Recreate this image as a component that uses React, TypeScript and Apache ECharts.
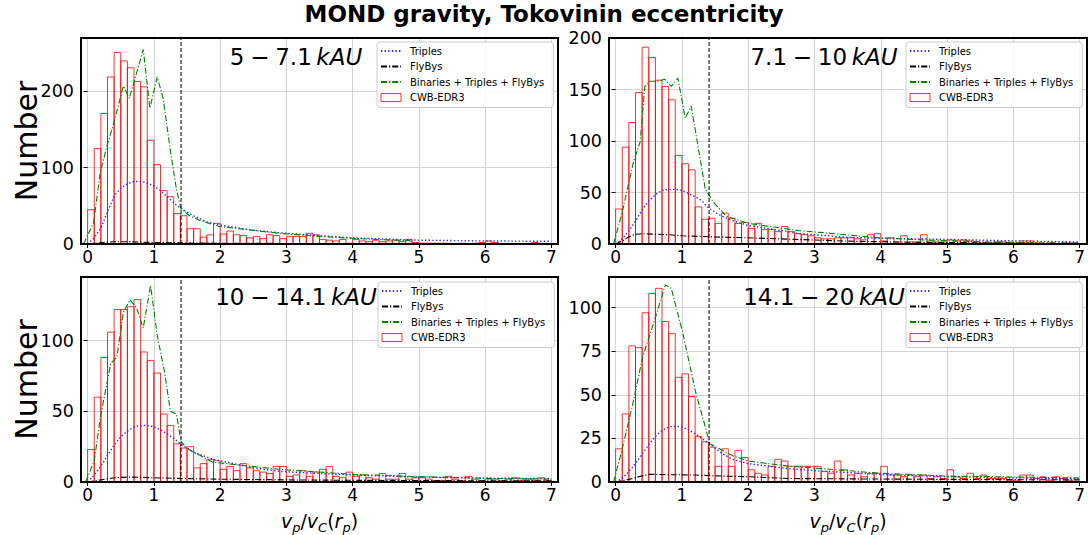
import React, { useEffect, useRef } from "react";
import * as echarts from "echarts";

// ---------------- data ----------------
const BIN_WIDTH = 0.1;
const CUT = 1.41;
const X_TICKS = [0, 1, 2, 3, 4, 5, 6, 7];
const TITLE = "MOND gravity, Tokovinin eccentricity";
const PANEL_RANGES = ["5\u2005−\u20057.1", "7.1\u2005−\u200510", "10\u2005−\u200514.1", "14.1\u2005−\u200520"];
const UNIT = "kAU";
const NAME_TRIPLES = "Triples";
const NAME_FLYBYS = "FlyBys";
const NAME_TOTAL = "Binaries + Triples + FlyBys";
const NAME_HIST = "CWB-EDR3";

const HIST_1 = [
  45, 125, 171, 219, 251, 240, 231, 213, 206, 136,
  104, 70, 62, 40, 37, 20, 20, 9, 12, 27,
  13, 17, 12, 11, 8, 10, 7, 12, 11, 7,
  10, 10, 10, 14, 12, 6, 5, 4, 6, 1,
  6, 4, 3, 5, 3, 4, 5, 3, 6, 2,
  1, 1, 1, 1, 1, 0, 1, 0, 1, 2,
  4, 2, 0, 0, 0, 0, 0, 2, 0, 0,
];
const HIST_2 = [
  34, 94, 118, 147, 191, 181, 159, 153, 140, 86,
  78, 72, 36, 24, 25, 20, 30, 25, 20, 21,
  15, 20, 14, 14, 12, 17, 12, 10, 9, 8,
  6, 5, 5, 6, 6, 6, 5, 4, 9, 10,
  3, 6, 2, 8, 2, 2, 9, 3, 2, 2,
  4, 3, 4, 3, 2, 1, 1, 2, 2, 1,
  1, 3, 3, 1, 0, 1, 0, 0, 1, 0,
];
const HIST_3 = [
  23, 60, 88, 106, 122, 122, 124, 129, 92, 86,
  77, 48, 40, 27, 24, 25, 10, 13, 16, 15,
  9, 11, 8, 13, 10, 8, 7, 6, 11, 11,
  4, 5, 8, 4, 7, 9, 11, 4, 3, 7,
  4, 5, 3, 2, 6, 2, 2, 6, 2, 3,
  3, 2, 1, 1, 4, 2, 1, 4, 2, 1,
  2, 2, 1, 2, 3, 1, 2, 1, 3, 1,
];
const HIST_4 = [
  19, 39, 78, 77, 97, 108, 111, 92, 85, 60,
  62, 49, 26, 23, 20, 9, 19, 9, 18, 14,
  7, 5, 4, 9, 13, 12, 9, 9, 9, 9,
  9, 6, 5, 12, 7, 4, 5, 3, 5, 5,
  9, 4, 4, 3, 4, 3, 4, 2, 3, 2,
  7, 3, 2, 5, 2, 4, 2, 2, 2, 1,
  1, 4, 4, 2, 3, 1, 3, 2, 1, 0,
];

const TOTAL_1: [number, number][] = [
  [-0.06, 0], [0.09, 28], [0.19, 93], [0.29, 128], [0.39, 157], [0.54, 207],
  [0.63, 191], [0.84, 255], [0.94, 178], [1.05, 219], [1.14, 191], [1.24, 128],
  [1.34, 72], [1.41, 46], [1.54, 37], [1.69, 31], [1.99, 23], [2.39, 19],
  [2.89, 14], [3.5, 10], [4.0, 7.4], [4.5, 5.5], [4.85, 4.5], [4.95, 0],
];
const TRIPLES_1: [number, number][] = [
  [0, 0], [0.1, 8], [0.2, 21], [0.3, 42], [0.4, 63], [0.5, 73], [0.6, 79],
  [0.7, 82], [0.8, 82], [0.9, 80], [1.0, 76], [1.1, 70], [1.2, 62], [1.3, 54],
  [1.4, 47], [1.6, 37], [1.8, 29], [2.0, 25], [2.5, 18], [3.0, 14], [3.5, 11],
  [4.0, 8], [4.5, 6.5], [5.0, 5], [6.0, 4], [7.0, 3.5],
];
const FLYBYS_1: [number, number][] = [
  [0, 0], [0.2, 2], [0.4, 3], [0.6, 3], [0.8, 2.5], [1.0, 2], [1.4, 1.5],
  [2.0, 1], [3.0, 0.7], [4.0, 0.5], [5.0, 0.3], [7.0, 0.2],
];

const TOTAL_2: [number, number][] = [
  [-0.03, 0], [0.1, 31], [0.27, 80], [0.37, 99], [0.44, 153], [0.52, 158],
  [0.64, 158], [0.74, 160], [0.84, 153], [0.94, 161], [1.05, 122], [1.14, 134],
  [1.24, 96], [1.35, 54], [1.47, 41], [1.67, 27], [2.0, 20], [2.77, 13],
  [3.13, 11], [3.63, 8], [4.0, 6], [4.63, 4], [5.13, 3], [5.63, 2], [6.13, 1.5],
  [6.3, 1.3],
];
const TRIPLES_2: [number, number][] = [
  [0, 0], [0.1, 5], [0.2, 13], [0.3, 22], [0.4, 33], [0.5, 42], [0.6, 48],
  [0.7, 52], [0.8, 53], [0.9, 53], [1.0, 52], [1.1, 49], [1.2, 46], [1.3, 42],
  [1.4, 35], [1.6, 27], [1.8, 22], [2.0, 18], [2.5, 13], [2.77, 10], [3.0, 9],
  [3.5, 6.5], [4.0, 5.5], [5.0, 4.5], [6.0, 3], [7.0, 2],
];
const FLYBYS_2: [number, number][] = [
  [0, 0], [0.1, 3], [0.2, 7], [0.3, 9.5], [0.4, 10], [0.6, 9.5], [0.8, 9],
  [1.0, 8], [1.4, 7], [2.0, 6], [2.7, 4.5], [3.6, 2.6], [4.6, 1.6], [6.0, 1],
  [7.0, 0.8],
];

const TOTAL_3: [number, number][] = [
  [-0.03, 0], [0.1, 15], [0.2, 48], [0.35, 84], [0.44, 88], [0.54, 120],
  [0.64, 129], [0.74, 123], [0.84, 109], [0.95, 139], [1.05, 104], [1.16, 78],
  [1.25, 50], [1.34, 48], [1.41, 29], [1.49, 24], [1.89, 14], [2.89, 9],
  [4.0, 5.4], [5.0, 3.8], [6.0, 2.6], [7.0, 2],
];
const TRIPLES_3: [number, number][] = [
  [0, 0], [0.1, 5], [0.2, 11], [0.3, 19], [0.4, 26], [0.5, 32], [0.6, 36],
  [0.7, 39], [0.8, 40], [0.9, 40], [1.0, 39], [1.1, 37], [1.2, 34], [1.3, 31],
  [1.4, 27], [1.6, 21], [1.9, 16], [2.5, 10], [2.9, 7.5], [3.5, 6], [4.0, 5],
  [5.0, 3.5], [6.0, 2.8], [7.0, 2.3],
];
const FLYBYS_3: [number, number][] = [
  [0, 0], [0.2, 1.5], [0.4, 3], [0.6, 3.5], [0.8, 3.3], [1.0, 3], [1.4, 2.5],
  [2.0, 2], [3.0, 1.5], [4.0, 1.2], [5.0, 1], [7.0, 0.8],
];

const TOTAL_4: [number, number][] = [
  [-0.03, 0], [0.1, 19], [0.26, 45], [0.41, 72], [0.59, 93], [0.75, 113],
  [0.84, 111], [1.01, 86], [1.21, 51], [1.35, 32], [1.42, 22], [1.77, 15],
  [2.0, 12], [2.63, 9], [3.0, 8], [4.0, 5], [5.0, 3.4], [6.0, 2.9], [7.0, 2.3],
];
const TRIPLES_4: [number, number][] = [
  [0, 0], [0.1, 2], [0.26, 8.6], [0.4, 16], [0.51, 22], [0.6, 26], [0.7, 29.5],
  [0.8, 31.5], [0.9, 32], [1.0, 31.5], [1.1, 30], [1.26, 26], [1.41, 22],
  [1.6, 16.5], [1.76, 13], [2.0, 10.5], [2.63, 7.6], [3.0, 6.5], [4.0, 4.4],
  [5.0, 3], [7.0, 1.9],
];
const FLYBYS_4: [number, number][] = [
  [0, 0], [0.2, 1.5], [0.4, 3.5], [0.5, 4.4], [0.8, 4.2], [1.2, 4], [1.5, 3.5],
  [2.0, 3], [2.6, 2], [3.5, 1.8], [5.0, 1.5], [7.0, 1.2],
];

const HISTS = [HIST_1, HIST_2, HIST_3, HIST_4];
const TOTALS = [TOTAL_1, TOTAL_2, TOTAL_3, TOTAL_4];
const TRIPLES = [TRIPLES_1, TRIPLES_2, TRIPLES_3, TRIPLES_4];
const FLYBYS = [FLYBYS_1, FLYBYS_2, FLYBYS_3, FLYBYS_4];
const Y_MAX = [270, 200, 145, 117.5];
const Y_STEP = [100, 50, 50, 25];

// ---------------- layout ----------------
const FONT = "DejaVu Sans";
const LAYOUT = [
  { left: 81, top: 38, width: 477, height: 206, labelX: 296, labelY: 57, legendLeft: 377, legendTop: 42, yName: true, xName: false },
  { left: 609, top: 38, width: 478, height: 206, labelX: 824, labelY: 57, legendLeft: 906, legendTop: 42, yName: false, xName: false },
  { left: 81, top: 277, width: 477, height: 205, labelX: 296, labelY: 297, legendLeft: 378, legendTop: 282, yName: true, xName: true },
  { left: 609, top: 277, width: 478, height: 205, labelX: 824, labelY: 297, legendLeft: 906, legendTop: 282, yName: false, xName: true },
];

const HIST_COLOR = "rgba(255,0,0,0.8)";
const TRIPLES_COLOR = "#2a2aff";
const TOTAL_COLOR = "#008000";

function buildOption() {
  const grid = LAYOUT.map((l) => ({ left: l.left, top: l.top, width: l.width, height: l.height }));
  const xAxis = LAYOUT.map((l, i) => ({
    type: "value",
    gridIndex: i,
    min: -0.1,
    max: 7.1,
    splitNumber: 7,
    minInterval: 1,
    maxInterval: 1,
    axisLine: { show: false },
    axisTick: { show: true, inside: false, length: 4, customValues: X_TICKS, lineStyle: { color: "#000", width: 1 } },
    axisLabel: {
      show: true,
      customValues: X_TICKS,
      margin: 4,
      fontSize: 17,
      fontFamily: FONT,
      color: "#000",
      formatter: (v: number) => (Math.abs(v - Math.round(v)) < 1e-6 && v >= 0 && v <= 7 ? String(Math.round(v)) : ""),
    },
    splitLine: { show: true, lineStyle: { color: "#d4d4d4", width: 1 } },
  }));
  const yAxis = LAYOUT.map((l, i) => {
    const step = Y_STEP[i];
    const ticks: number[] = [];
    for (let v = 0; v <= Y_MAX[i] + 1e-9; v += step) ticks.push(v);
    return {
      type: "value",
      gridIndex: i,
      min: 0,
      max: Y_MAX[i],
      interval: step,
      axisLine: { show: false },
      axisTick: { show: true, inside: false, length: 4, customValues: ticks, lineStyle: { color: "#000", width: 1 } },
      axisLabel: {
        show: true,
        customValues: ticks,
        margin: 7,
        fontSize: 17.5,
        fontFamily: FONT,
        color: "#000",
        formatter: (v: number) => (Math.abs(v / step - Math.round(v / step)) < 1e-6 ? String(v) : ""),
      },
      splitLine: { show: true, lineStyle: { color: "#d4d4d4", width: 1 } },
    };
  });

  const series: any[] = [];
  LAYOUT.forEach((l, i) => {
    series.push({
      type: "custom",
      name: NAME_HIST,
      xAxisIndex: i,
      yAxisIndex: i,
      clip: true,
      itemStyle: { color: "rgba(0,0,0,0)", borderColor: HIST_COLOR, borderWidth: 1 },
      encode: { x: 0, y: 1 },
      data: HISTS[i].map((c, k) => [k * BIN_WIDTH, c]),
      renderItem: (params: any, api: any) => {
        const x0 = api.value(0);
        const c = api.value(1);
        const p0 = api.coord([x0, 0]);
        const p1 = api.coord([x0 + BIN_WIDTH, c]);
        return {
          type: "rect",
          shape: { x: p0[0], y: p1[1], width: p1[0] - p0[0], height: p0[1] - p1[1] },
          style: { fill: "none", stroke: HIST_COLOR, lineWidth: 1 },
        };
      },
      z: 2,
    });
    series.push({
      type: "line",
      name: NAME_TRIPLES,
      xAxisIndex: i,
      yAxisIndex: i,
      symbol: "none",
      showSymbol: false,
      smooth: false,
      clip: true,
      data: TRIPLES[i],
      lineStyle: { color: TRIPLES_COLOR, width: 1.4, type: [1.4, 2.2] },
      itemStyle: { color: TRIPLES_COLOR },
      z: 3,
    });
    series.push({
      type: "line",
      name: NAME_FLYBYS,
      xAxisIndex: i,
      yAxisIndex: i,
      symbol: "none",
      showSymbol: false,
      clip: true,
      data: FLYBYS[i],
      lineStyle: { color: "#000", width: 1.1, type: [6, 2, 1.2, 2] },
      itemStyle: { color: "#000" },
      z: 3,
    });
    series.push({
      type: "line",
      name: NAME_TOTAL,
      xAxisIndex: i,
      yAxisIndex: i,
      symbol: "none",
      showSymbol: false,
      clip: true,
      data: TOTALS[i],
      lineStyle: { color: TOTAL_COLOR, width: 1.1, type: [6, 2, 1.2, 2] },
      itemStyle: { color: TOTAL_COLOR },
      z: 4,
    });
    series.push({
      type: "line",
      name: "cut",
      xAxisIndex: i,
      yAxisIndex: i,
      symbol: "none",
      showSymbol: false,
      data: [
        [CUT, 0],
        [CUT, Y_MAX[i]],
      ],
      lineStyle: { color: "#000", width: 1, type: [4, 2] },
      z: 5,
    });
  });

  const hiddenSymbol = { opacity: 0 };
  const legend = LAYOUT.map((l) => ({
    left: l.legendLeft,
    top: l.legendTop,
    orient: "vertical",
    selectedMode: false,
    itemWidth: 20,
    itemHeight: 8,
    itemGap: 5.5,
    padding: [4, 9, 5, 3],
    backgroundColor: "rgba(255,255,255,0.85)",
    borderColor: "#cccccc",
    borderWidth: 1,
    borderRadius: 3,
    textStyle: { fontSize: 10, lineHeight: 9, fontFamily: FONT, color: "#000", padding: [0, 0, 0, 4] },
    data: [
      { name: NAME_TRIPLES, itemStyle: hiddenSymbol },
      { name: NAME_FLYBYS, itemStyle: hiddenSymbol },
      { name: NAME_TOTAL, itemStyle: hiddenSymbol },
      { name: NAME_HIST, icon: "rect", itemStyle: { color: "rgba(0,0,0,0)", borderColor: HIST_COLOR, borderWidth: 1 } },
    ],
    z: 10,
  }));

  const graphic: any[] = [];
  LAYOUT.forEach((l, i) => {
    graphic.push({
      type: "rect",
      shape: { x: l.left, y: l.top, width: l.width, height: l.height },
      style: { fill: "none", stroke: "#000", lineWidth: 2 },
      z: 100,
      silent: true,
    });
    graphic.push({
      type: "text",
      x: l.labelX,
      y: l.labelY,
      z: 50,
      style: {
        text: `{n|${PANEL_RANGES[i]}\u2009}{i|${UNIT}}`,
        align: "center",
        verticalAlign: "middle",
        rich: {
          n: { fontSize: 23, fontFamily: FONT, fill: "#000" },
          i: { fontSize: 23, fontFamily: FONT, fontStyle: "italic", fill: "#000" },
        },
      },
    });
    if (l.yName) {
      graphic.push({
        type: "text",
        x: 26,
        y: l.top + l.height / 2,
        rotation: Math.PI / 2,
        style: {
          text: "Number",
          align: "center",
          verticalAlign: "middle",
          fontSize: 30,
          fontFamily: FONT,
          fill: "#000",
        },
      });
    }
    if (l.xName) {
      graphic.push({
        type: "text",
        x: l.left + l.width / 2,
        y: 521,
        style: {
          text: "{m|v}{s|p}{u|/}{m|v}{s|C}{u|(}{m|r}{s|p}{u|)}",
          align: "center",
          verticalAlign: "middle",
          rich: {
            m: { fontSize: 19, fontFamily: FONT, fontStyle: "italic", fill: "#000", lineHeight: 26, verticalAlign: "middle" },
            s: { fontSize: 13, fontFamily: FONT, fontStyle: "italic", fill: "#000", lineHeight: 13, verticalAlign: "bottom" },
            u: { fontSize: 19, fontFamily: FONT, fill: "#000", lineHeight: 26, verticalAlign: "middle" },
          },
        },
      });
    }
  });

  return {
    animation: false,
    backgroundColor: "#ffffff",
    title: {
      text: TITLE,
      left: "center",
      top: -3,
      textStyle: { fontSize: 23, fontWeight: "bold", fontFamily: FONT, color: "#000" },
    },
    grid,
    xAxis,
    yAxis,
    legend,
    series,
    graphic,
  };
}

export default function App() {
  const ref = useRef<HTMLDivElement>(null);
  useEffect(() => {
    if (!ref.current) return;
    const chart = echarts.init(ref.current, undefined, { renderer: "svg" });
    chart.setOption(buildOption() as any);
    return () => chart.dispose();
  }, []);
  return <div ref={ref} style={{ position: "absolute", left: 0, top: 0, width: 1088, height: 535 }} />;
}
